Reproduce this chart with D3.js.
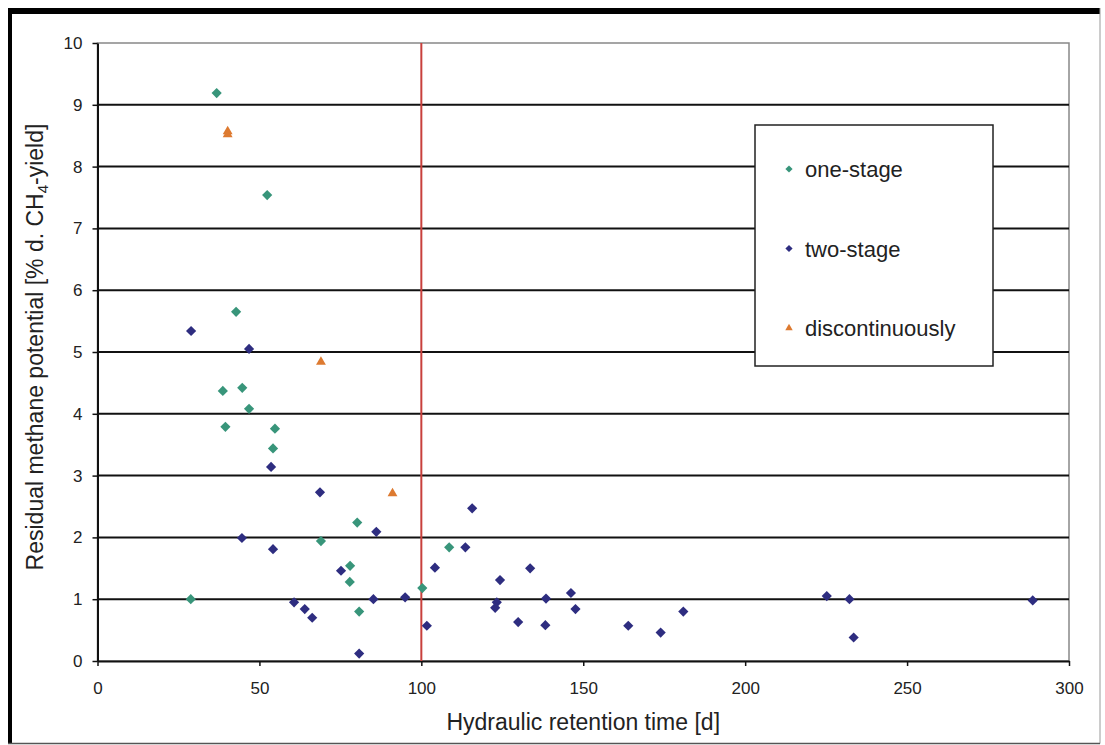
<!DOCTYPE html>
<html lang="en">
<head>
    <meta charset="UTF-8">
    <script src="https://d3js.org/d3.v7.min.js"></script>
    <title>Residual methane potential</title>
    <style>
      html, body {
         margin: 0;
         padding: 0;
         background: #ffffff;
      }
      svg {
         display: block;
         font-family: 'Liberation Sans', Arial, sans-serif;
      }
    </style>
</head>
<body>
    <div id="wrapper"></div>

<script>

   // values: [retention time (d), residual potential (%)]
   const oneStage = [
      [36.8, 9.19], [52.4, 7.54], [42.8, 5.65], [38.7, 4.37], [44.7, 4.42],
      [46.8, 4.08], [39.5, 3.79], [54.8, 3.76], [54.2, 3.44], [80.2, 2.24],
      [69.0, 1.94], [78.0, 1.54], [77.9, 1.28], [28.8, 1.00], [80.8, 0.80],
      [108.6, 1.84], [100.3, 1.18]
   ];
   const twoStage = [
      [28.9, 5.34], [46.8, 5.05], [53.6, 3.14], [68.7, 2.73], [86.1, 2.09],
      [44.6, 1.99], [54.2, 1.81], [75.2, 1.46], [85.2, 1.00], [60.7, 0.95],
      [64.0, 0.84], [66.3, 0.70], [80.8, 0.12], [95.0, 1.03], [101.7, 0.57],
      [104.2, 1.51], [113.6, 1.84], [115.7, 2.47], [123.3, 0.95], [122.8, 0.86],
      [124.3, 1.31], [129.9, 0.63], [133.6, 1.50], [138.5, 1.01], [138.3, 0.58],
      [146.2, 1.10], [147.6, 0.84], [163.9, 0.57], [173.9, 0.46], [180.9, 0.80],
      [225.2, 1.05], [232.2, 1.00], [233.5, 0.38], [288.8, 0.98]
   ];
   const discontinuously = [
      [40.2, 8.57], [40.2, 8.52], [69.0, 4.84], [91.1, 2.71]
   ];

   const seriesNames = ["one-stage", "two-stage", "discontinuously"];
   const xTicks = [0, 50, 100, 150, 200, 250, 300];
   const yTicks = [0, 1, 2, 3, 4, 5, 6, 7, 8, 9, 10];
   const markerLine = 100; // HRT limit

   const colors = {
      "one-stage": "#38957a",
      "two-stage": "#2e2d80",
      "discontinuously": "#dd7a30"
   };

   let dimensions = {
      width: 1105,
      height: 745,
      margin: {
         top: 43,
         left: 97.5,
         right: 36,
         bottom: 84
      }
   };
   dimensions.boundedWidth = dimensions.width - dimensions.margin.left - dimensions.margin.right;
   dimensions.boundedHeight = dimensions.height - dimensions.margin.top - dimensions.margin.bottom;

   const wrapper = d3.select("#wrapper")
      .append("svg")
         .attr("width", dimensions.width)
         .attr("height", dimensions.height);

   // window frame: heavy black top/left, thin grey right/bottom
   wrapper.append("rect")
      .attr("x", 8).attr("y", 8)
      .attr("width", 1092).attr("height", 6)
      .attr("fill", "#000");
   wrapper.append("rect")
      .attr("x", 8).attr("y", 8)
      .attr("width", 4).attr("height", 736)
      .attr("fill", "#000");
   wrapper.append("line")
      .attr("x1", 1100).attr("x2", 1100).attr("y1", 8).attr("y2", 743.5)
      .attr("stroke", "#999").attr("stroke-width", 1);
   wrapper.append("line")
      .attr("x1", 8).attr("x2", 1100).attr("y1", 743.5).attr("y2", 743.5)
      .attr("stroke", "#555").attr("stroke-width", 1.5);

   const bounds = wrapper.append("g")
      .attr("transform", "translate(" + dimensions.margin.left + "," + dimensions.margin.top + ")");

   const xScale = d3.scaleLinear()
      .domain([0, 300])
      .range([0, dimensions.boundedWidth]);

   const yScale = d3.scaleLinear()
      .domain([0, 10])
      .range([dimensions.boundedHeight, 0]);

   // plot frame (grey)
   bounds.append("rect")
      .attr("x", 0).attr("y", 0)
      .attr("width", dimensions.boundedWidth)
      .attr("height", dimensions.boundedHeight)
      .attr("fill", "none")
      .attr("stroke", "#888")
      .attr("stroke-width", 1.5);

   // horizontal gridlines
   bounds.append("g")
      .selectAll("line")
      .data(yTicks.filter(d => d > 0 && d < 10))
      .join("line")
         .attr("x1", 0)
         .attr("x2", dimensions.boundedWidth)
         .attr("y1", d => yScale(d))
         .attr("y2", d => yScale(d))
         .attr("stroke", "#111")
         .attr("stroke-width", 2);

   // axes
   const xAxisGenerator = d3.axisBottom(xScale)
      .tickValues(xTicks)
      .tickSize(5)
      .tickSizeOuter(0)
      .tickPadding(16);
   const xAxis = bounds.append("g")
      .attr("transform", "translate(0," + dimensions.boundedHeight + ")")
      .call(xAxisGenerator);

   const yAxisGenerator = d3.axisLeft(yScale)
      .tickValues(yTicks)
      .tickSize(5)
      .tickSizeOuter(0)
      .tickPadding(10);
   const yAxis = bounds.append("g")
      .call(yAxisGenerator);

   [xAxis, yAxis].forEach(ax => {
      ax.select(".domain").attr("stroke", "#111").attr("stroke-width", 2);
      ax.selectAll(".tick line").attr("stroke", "#111").attr("stroke-width", 1.5);
      ax.selectAll(".tick text")
         .attr("fill", "#222")
         .style("font-size", "17px");
   });

   // vertical marker at HRT = 100 d
   bounds.append("line")
      .attr("x1", xScale(markerLine))
      .attr("x2", xScale(markerLine))
      .attr("y1", 0)
      .attr("y2", dimensions.boundedHeight)
      .attr("stroke", "#c8403c")
      .attr("stroke-width", 2);

   // markers
   const diamond = d3.symbol().type(d3.symbolSquare).size(52);
   const triangle = d3.symbol().type(d3.symbolTriangle).size(42);

   function drawSeries(data, name, shape, rotate) {
      bounds.append("g")
         .selectAll("path")
         .data(data)
         .join("path")
            .attr("d", shape)
            .attr("transform", d => "translate(" + xScale(d[0]) + "," + yScale(d[1]) + ")" + (rotate ? " rotate(45)" : ""))
            .attr("fill", colors[name]);
   }
   drawSeries(oneStage, seriesNames[0], diamond, true);
   drawSeries(twoStage, seriesNames[1], diamond, true);
   drawSeries(discontinuously, seriesNames[2], triangle, false);

   // axis titles
   wrapper.append("text")
      .attr("x", dimensions.margin.left + dimensions.boundedWidth / 2)
      .attr("y", 730)
      .attr("text-anchor", "middle")
      .attr("fill", "#222")
      .style("font-size", "23px")
      .text("Hydraulic retention time [d]");

   const yTitle = wrapper.append("text")
      .attr("transform", "translate(43,347) rotate(-90)")
      .attr("text-anchor", "middle")
      .attr("fill", "#222")
      .style("font-size", "23px");
   yTitle.append("tspan").text("Residual methane potential [% d. CH");
   yTitle.append("tspan").attr("dy", 5).style("font-size", "15px").text("4");
   yTitle.append("tspan").attr("dy", -5).text("-yield]");

   // legend
   const legend = wrapper.append("g");
   legend.append("rect")
      .attr("x", 755).attr("y", 125)
      .attr("width", 238).attr("height", 241)
      .attr("fill", "#fff")
      .attr("stroke", "#222")
      .attr("stroke-width", 1.5);

   const legendShapes = [
      d3.symbol().type(d3.symbolSquare).size(26),
      d3.symbol().type(d3.symbolSquare).size(26),
      d3.symbol().type(d3.symbolTriangle).size(24)
   ];
   const legendItems = legend.selectAll("g.item")
      .data(seriesNames)
      .join("g")
         .attr("class", "item")
         .attr("transform", (d, i) => "translate(789," + (169 + i * 79.5) + ")");
   legendItems.append("path")
      .attr("d", (d, i) => legendShapes[i]())
      .attr("transform", (d, i) => i < 2 ? "rotate(45)" : "")
      .attr("fill", d => colors[d]);
   legendItems.append("text")
      .attr("x", 16)
      .attr("y", 8)
      .attr("fill", "#222")
      .style("font-size", "22px")
      .text(d => d);

</script>
</body>
</html>
